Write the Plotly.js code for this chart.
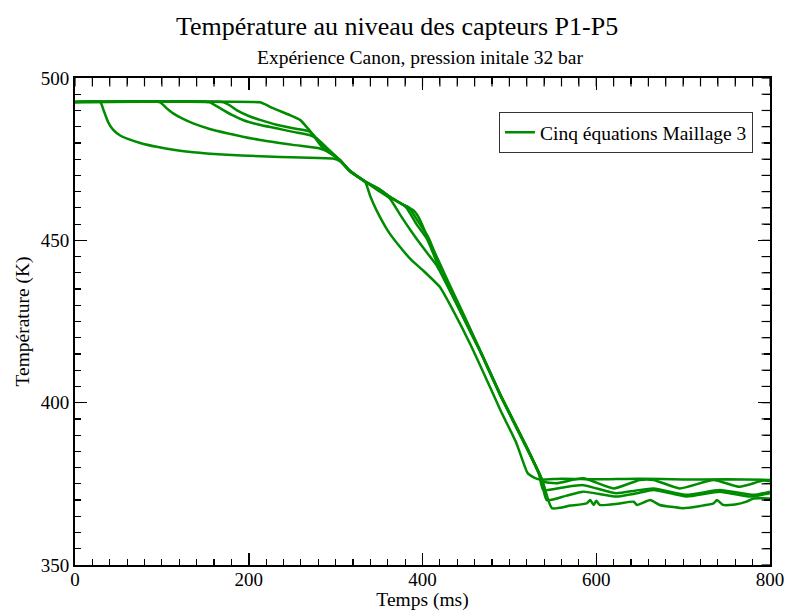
<!DOCTYPE html>
<html>
<head>
<meta charset="utf-8">
<script src="https://cdn.plot.ly/plotly-3.0.1.min.js"></script>
<style>html,body{margin:0;padding:0;background:#fff;}#chart{width:786px;height:611px;}</style>
</head>
<body>
<div id="chart"></div>
<script>
// Capteur P1
const p1_t = [0,29,33,38,44,52,60,75,94,115,136,170,213,260,297,305,316,334,340,347,360,374,387,400,420,435,455,474,490,508,521,528,535,560,600,650,700,750,800];
const p1_T = [492.6,492.6,490,486.5,484,482.3,481.3,480,478.8,477.8,477.1,476.4,475.9,475.5,475.2,474.4,471.3,468,463.5,459.3,453,448,444,440.9,435.6,428.5,418,407,397.5,387.6,378.3,377,376.3,376.6,376.4,376.6,376.3,376.4,376.2];
// Capteur P2
const p2_t = [0,98,105,113,125,136,155,175,213,251,282,295,305,316,334,348,362,374,386,400,416,420,440,466,490,520,534,539,554,585,620,650,666,696,735,765,792,800];
const p2_T = [492.6,492.5,490.8,489.1,487.3,486,484.3,483,480.9,479.4,478.3,476.8,474.7,471.5,468.1,465.5,463,458,453.2,448,442.4,440.5,430,416,402,386,378.5,375.7,375.2,376.7,373.6,376.2,376.2,373.6,376.2,374.1,376,375.8];
// Capteur P3
const p3_t = [0,155,160,167,180,194,212,232,251,270,278,290,305,316,334,350,365,378,382,393,405,420,440,466,490,520,534,539,560,585,623,645,666,704,742,781,800];
const p3_T = [492.6,492.5,491.8,490.7,488.7,487,485.6,484.5,483.4,482.4,481.4,478.5,474.7,471.5,468.1,465.8,463,460.9,459.9,455,450.5,441,430,416,402,386,378,373.1,373.8,374.6,372.1,372.9,373.6,371.6,373.1,371.6,372.6];
// Capteur P4
const p4_t = [0,171,178,186,200,213,232,251,270,274,285,305,316,334,350,362,378,384,395,407,421,440,466,490,520,536,543,565,585,623,645,666,704,742,777,800];
const p4_T = [492.6,492.5,491.6,490.1,488.3,487.1,485.6,484.5,483.5,482.4,478.5,474.7,471.5,468.1,465.8,463.4,460.9,460.2,455.8,450.8,441.5,430.3,416.3,402.3,386.3,377,370,371.3,372.6,371.1,372,373.1,371.1,372.6,371.1,372.1];
// Capteur P5
const p5_t = [0,213,218,228,247,259,268,278,290,305,316,334,350,362,378,389.5,394,399,408,418,430,445,466,490,520,538,549,570,589,593,597,600,604,625,643,647,662,673,690,700,720,735,739,746,760,773,781,800];
const p5_T = [492.6,492.5,492,490.7,488.6,487.1,484.5,481.4,478,474.7,471.5,468.1,465.8,463.4,460.9,459.3,457.8,455.2,449.5,444,437,428.5,416.3,402.3,386.3,376,367.5,368.3,369,370,368.5,369.8,368.5,368.9,369.5,368.5,370,368.5,367.8,367.5,368.2,369,370,368.5,368.6,369.5,370.5,370.5];

const seriesName = "Cinq équations Maillage 3";
const titleText = "Température au niveau des capteurs P1-P5";
const subtitleText = "Expérience Canon, pression initale 32 bar";
const xTitle = "Temps (ms)";
const yTitle = "Température (K)";

const xRange = [0, 800], yRange = [350, 500];
const xMinorStep = 20, yMinorStep = 5;

const green = "rgb(0,140,0)";
const serif = "Liberation Serif, Times New Roman, serif";
const series = [[p1_t,p1_T],[p2_t,p2_T],[p3_t,p3_T],[p4_t,p4_T],[p5_t,p5_T]];
const traces = series.map((s,i) => ({
  x: s[0], y: s[1], type: "scatter", mode: "lines",
  name: seriesName, showlegend: i === 0,
  line: {color: green, width: 2.5, shape: "spline", smoothing: 0.5}
}));

// small tick marks along the top and right frame edges (clipped to the plot area)
const topTicks = [], rightTicks = [];
for (let v = xRange[0]; v <= xRange[1]; v += xMinorStep) topTicks.push(v);
for (let v = yRange[0]; v <= yRange[1]; v += yMinorStep) rightTicks.push(v);
traces.push({
  x: topTicks, y: topTicks.map(() => yRange[1]), type: "scatter", mode: "markers",
  showlegend: false, hoverinfo: "skip", cliponaxis: true,
  marker: {symbol: "line-ns-open", size: 12, color: "#000", line: {color: "#000", width: 1.2}}
});
traces.push({
  x: rightTicks.map(() => xRange[1]), y: rightTicks, type: "scatter", mode: "markers",
  showlegend: false, hoverinfo: "skip", cliponaxis: true,
  marker: {symbol: "line-ew-open", size: 12, color: "#000", line: {color: "#000", width: 1.2}}
});

function axis(range, dtick, minorStep, extra) {
  return Object.assign({
    range: range.slice(), dtick: dtick, tick0: range[0],
    showgrid: false, zeroline: false, showline: true, linecolor: "#000", linewidth: 2,
    mirror: "ticks",
    ticks: "inside", ticklen: 12, tickwidth: 1.5, tickcolor: "#000",
    tickfont: {family: serif, size: 19, color: "#000"},
    minor: {dtick: minorStep, tick0: range[0], ticks: "inside", ticklen: 6, tickcolor: "#000", tickwidth: 1.2, showgrid: false}
  }, extra);
}

const layout = {
  width: 786, height: 611,
  margin: {l: 75, r: 16, t: 78, b: 46},
  paper_bgcolor: "#fff", plot_bgcolor: "#fff",
  font: {family: serif, color: "#000"},
  xaxis: axis(xRange, 200, xMinorStep, {
    ticklabelstandoff: -4,
    title: {text: xTitle, font: {family: serif, size: 19.5, color: "#000"}, standoff: 4}
  }),
  yaxis: axis(yRange, 50, yMinorStep, {
    title: {text: yTitle, font: {family: serif, size: 19.5, color: "#000"}, standoff: 6}
  }),
  showlegend: true,
  legend: {
    x: 0.9755, xanchor: "right", y: 0.93, yanchor: "top",
    bgcolor: "#fff", bordercolor: "#333", borderwidth: 1,
    font: {family: serif, size: 19.5, color: "#000"}, itemwidth: 30
  },
  annotations: [
    {text: titleText, xref: "paper", yref: "paper", x: 0.463, y: 1.105, xanchor: "center", yanchor: "middle",
     showarrow: false, font: {family: serif, size: 26, color: "#000"}},
    {text: subtitleText, xref: "paper", yref: "paper", x: 0.4957, y: 1.043, xanchor: "center", yanchor: "middle",
     showarrow: false, font: {family: serif, size: 19.5, color: "#000"}}
  ]
};

Plotly.newPlot("chart", traces, layout, {staticPlot: true, displayModeBar: false});
</script>
</body>
</html>
